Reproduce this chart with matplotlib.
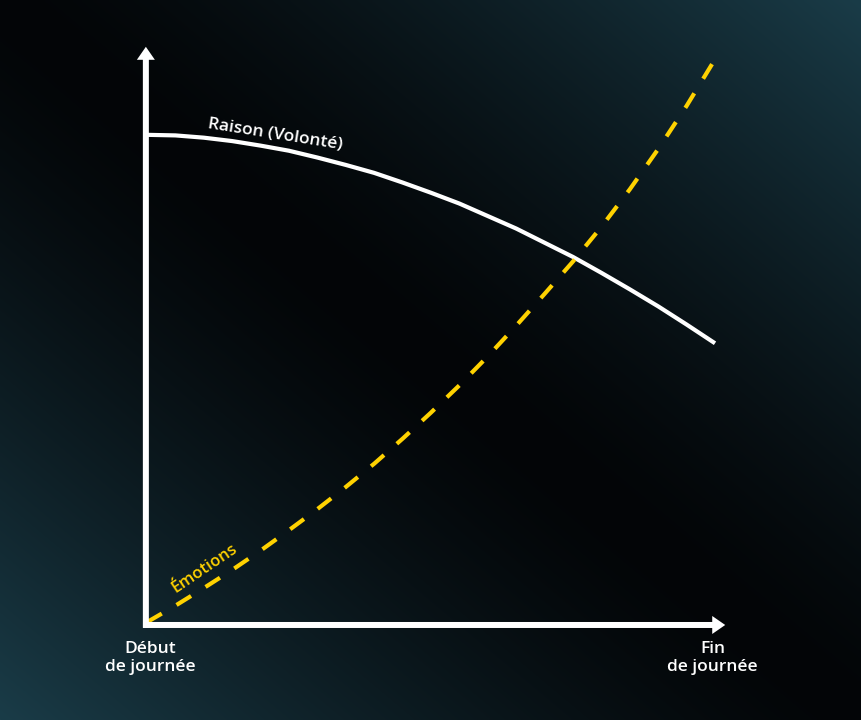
import numpy as np
import matplotlib
matplotlib.use("Agg")
import matplotlib.pyplot as plt

## values: time of day 0..100, level 0..100 ##
day_x = [0, 5, 10, 15, 20, 25, 30, 35, 40, 45, 50,
         55, 60, 65, 70, 75, 80, 85, 90, 95, 100]
raison_y = [86.3, 86.2, 85.8, 85.2, 84.4, 83.5, 82.3, 81.0, 79.6, 77.9, 76.1,
            74.2, 72.0, 69.8, 67.3, 64.8, 62.0, 59.1, 56.1, 52.9, 49.6]
emotions_y = [0.5, 3.4, 6.5, 9.7, 13.1, 16.7, 20.4, 24.3, 28.4, 32.8, 37.4,
              42.2, 47.3, 52.7, 58.3, 64.0, 70.1, 76.7, 83.8, 91.4, 99.6]

raison_label = "Raison (Volonté)"
emotions_label = "Émotions"
start_label = "Début\nde journée"
end_label = "Fin\nde journée"

YELLOW = "#FFD200"
FONT = ["Open Sans", "DejaVu Sans"]


def draw_background(ax, xlim, ylim):
    '''dark diagonal gradient, teal in the top-right and bottom-left corners'''
    h, w = 360, 431
    gx, gy = np.meshgrid(np.linspace(0, 1, w), np.linspace(0, 1, h))
    u = np.abs(gx - gy) ** 1.4
    dark = np.array([3, 5, 7]) / 255
    teal = np.array([26, 60, 72]) / 255
    img = dark + u[..., None] * (teal - dark)
    ax.imshow(img, extent=[xlim[0], xlim[1], ylim[0], ylim[1]],
              aspect="auto", zorder=0, interpolation="bilinear")


def draw_chart():
    fig = plt.figure(figsize=(8.62, 7.2), dpi=100)
    ax = fig.add_axes([0, 0, 1, 1])
    ## 5.68 px per unit on both axes ##
    xlim = (-25.88, 125.88)
    ylim = (-16.73, 110.04)
    draw_background(ax, xlim, ylim)
    ax.set_xlim(*xlim)
    ax.set_ylim(*ylim)
    ax.axis("off")

    ## curves ##
    ax.plot(day_x, raison_y, color="white", lw=3, solid_capstyle="butt",
            solid_joinstyle="round", zorder=2)
    ax.plot(day_x, emotions_y, color=YELLOW, lw=3, dashes=(4.1, 4.1),
            dash_capstyle="butt", zorder=2)

    ## axes as arrows ##
    px = 1 / 5.68
    ax.arrow(-0.2, -0.5, 0, 102.3, width=6 * px, head_width=18 * px, head_length=13 * px,
             length_includes_head=True, color="white", lw=0, zorder=3)
    ax.arrow(-0.7, 0, 102.5, 0, width=6 * px, head_width=18 * px, head_length=13 * px,
             length_includes_head=True, color="white", lw=0, zorder=3)

    ## labels ##
    ax.text(22.6, 86.4, raison_label, color="white", fontsize=12.5, fontweight="semibold",
            family=FONT, rotation=-9, ha="center", va="center", rotation_mode="anchor", zorder=4)
    ax.text(10.2, 9.9, emotions_label, color=YELLOW, fontsize=12, fontweight="semibold",
            family=FONT, rotation=34, ha="center", va="center", rotation_mode="anchor", zorder=4)
    ax.text(0.5, -5.8, start_label, color="white", fontsize=12.5, fontweight="semibold",
            family=FONT, ha="center", va="center", multialignment="center", linespacing=1.15)
    ax.text(99.6, -5.8, end_label, color="white", fontsize=12.5, fontweight="semibold",
            family=FONT, ha="center", va="center", multialignment="center", linespacing=1.15)

    fig.savefig("out.png", dpi=100)


draw_chart()
